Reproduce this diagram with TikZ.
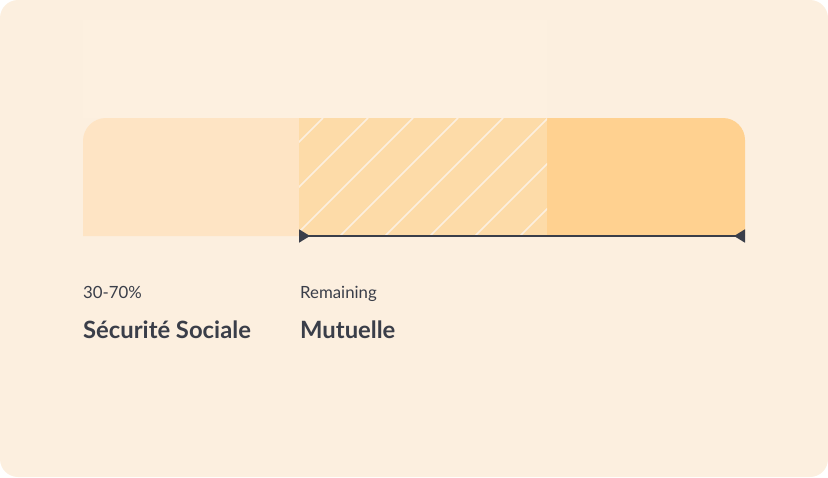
\documentclass[tikz,border=0pt]{standalone}
\usepackage{fontspec}
\setmainfont{Lato}
\usetikzlibrary{arrows.meta}

\definecolor{mPaper}{HTML}{FCEFDF}
\definecolor{mGhost}{HTML}{FDF0E0}
\definecolor{mLight}{HTML}{FEE4C4}
\definecolor{mMid}{HTML}{FDDBA8}
\definecolor{mDeep}{HTML}{FFD190}
\definecolor{mInk}{HTML}{3A3E49}

\begin{document}
\begin{tikzpicture}
  [x=1pt,y=-1pt,
  seg/.style={draw=none},
  hatch/.style={draw=mPaper,line width=1.5pt},
  small/.style={anchor=base west,inner sep=0pt,text=mInk,font=\fontsize{16.8}{20}\selectfont},
  big/.style={anchor=base west,inner sep=0pt,text=mInk,font=\fontsize{23.8}{28}\selectfont\bfseries},
  span/.style={{Triangle[reversed,length=11pt,width=13pt]}-{Triangle[reversed,length=11pt,width=13pt]},
    draw=mInk,line width=1.8pt}]

  \useasboundingbox (0,0) rectangle (828,477);
  \fill[mPaper,rounded corners=18pt] (0,0) rectangle (828,477);

%  \draw[red] (83,20) grid[step=50] (745,236);

  \fill[mGhost] (83,20) rectangle (547,118);

  \fill[seg,mLight] (83,236) -- (83,141) arc[start angle=180,end angle=270,radius=23]
    -- (299,118) -- (299,236) -- cycle;
  \fill[seg,mMid] (299,118) rectangle (547,236);
  \fill[seg,mDeep] (547,236) -- (547,118) -- (723,118)
    arc[start angle=270,end angle=360,radius=22] -- (745,236) -- cycle;

  \begin{scope}
    \clip (299,118) rectangle (547,236);
    \foreach \k in {0,...,7}
      \draw[hatch] (323+45*\k,118) -- ++(-118,118);
  \end{scope}

  \coordinate (from) at (299,236);
  \coordinate (to) at (745,236);
  \draw[span] (from) -- (to);

  \node[small] (pct) at (83,298) {30-70\%};
  \node[big] (secu) at (83,338) {Sécurité Sociale};
  \node[small] (rest) at (300,298) {Remaining};
  \node[big] (mut) at (300,338) {Mutuelle};
\end{tikzpicture}
\end{document}
